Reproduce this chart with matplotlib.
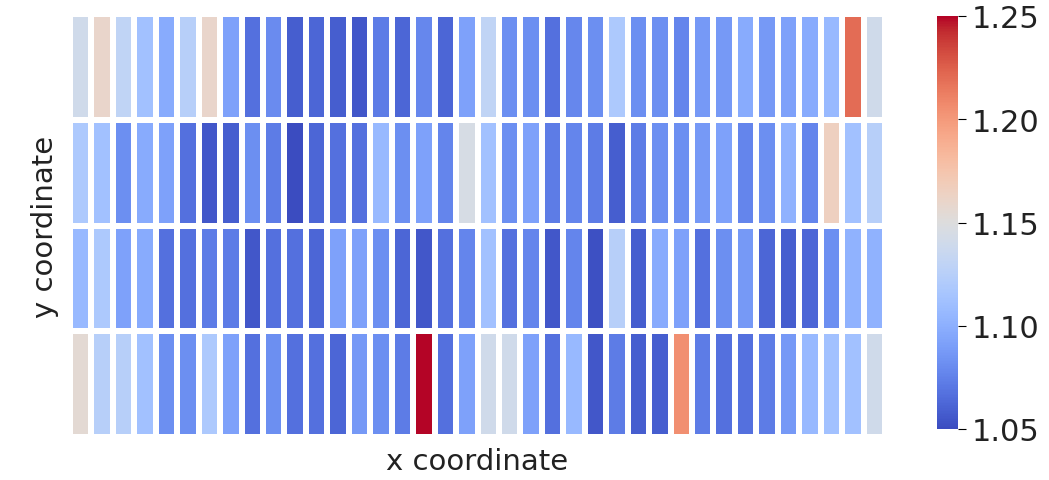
import matplotlib
matplotlib.use("Agg")
import matplotlib.pyplot as plt
import numpy as np
import seaborn as sns

# values per row (top to bottom), 38 x-positions each
row0 = [1.140, 1.160, 1.130, 1.112, 1.097, 1.125, 1.160, 1.092, 1.067, 1.080,
        1.058, 1.062, 1.058, 1.055, 1.072, 1.062, 1.078, 1.062, 1.092, 1.130,
        1.082, 1.082, 1.067, 1.078, 1.082, 1.118, 1.082, 1.082, 1.077, 1.087,
        1.087, 1.097, 1.087, 1.092, 1.097, 1.107, 1.220, 1.140]
row1 = [1.118, 1.112, 1.082, 1.097, 1.092, 1.067, 1.055, 1.058, 1.082, 1.072,
        1.050, 1.062, 1.067, 1.067, 1.107, 1.082, 1.092, 1.077, 1.145, 1.112,
        1.082, 1.092, 1.072, 1.077, 1.072, 1.058, 1.072, 1.082, 1.082, 1.087,
        1.092, 1.077, 1.082, 1.102, 1.077, 1.165, 1.112, 1.125]
row2 = [1.107, 1.118, 1.092, 1.097, 1.067, 1.067, 1.072, 1.072, 1.055, 1.067,
        1.067, 1.062, 1.092, 1.092, 1.082, 1.062, 1.055, 1.067, 1.077, 1.112,
        1.067, 1.077, 1.055, 1.077, 1.052, 1.125, 1.058, 1.097, 1.092, 1.067,
        1.082, 1.087, 1.062, 1.058, 1.062, 1.082, 1.102, 1.102]
row3 = [1.155, 1.125, 1.125, 1.112, 1.082, 1.082, 1.118, 1.092, 1.067, 1.082,
        1.067, 1.067, 1.062, 1.087, 1.082, 1.072, 1.250, 1.067, 1.092, 1.140,
        1.140, 1.092, 1.067, 1.107, 1.055, 1.072, 1.058, 1.058, 1.205, 1.072,
        1.067, 1.067, 1.072, 1.087, 1.107, 1.112, 1.112, 1.140]

grid = np.array([row0, row1, row2, row3])

fig = plt.figure(figsize=(10.49, 4.81), dpi=100)
ax = fig.add_axes([70/1049, 43/481, 815/1049, 423/481])
cax = fig.add_axes([937/1049, 51/481, 21/1049, 413/481])

sns.heatmap(grid, ax=ax, cbar_ax=cax, cmap="coolwarm", vmin=1.05, vmax=1.25,
            linewidths=3, linecolor="white",
            xticklabels=False, yticklabels=False)

ax.set_xlabel("x coordinate", fontsize=21, labelpad=7, color="#222222")
ax.set_ylabel("y coordinate", fontsize=21, labelpad=8, color="#222222")
cax.tick_params(labelsize=22, length=6, pad=4, labelcolor="#222222")
cax.set_yticks([1.05, 1.10, 1.15, 1.20, 1.25])
cax.set_yticklabels(["1.05", "1.10", "1.15", "1.20", "1.25"])
for s in cax.spines.values():
    s.set_visible(False)

fig.savefig("out.png", dpi=100)
